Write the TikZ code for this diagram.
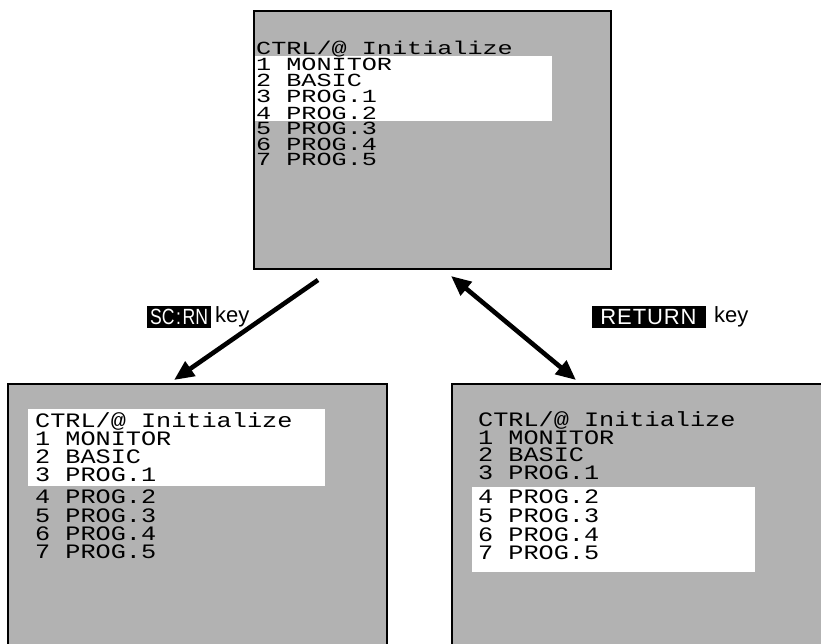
\documentclass[tikz,border=0pt]{standalone}
\usepackage{fontspec}
\setmainfont{Liberation Sans}
\newfontfamily\scrfont[FakeStretch=1.23]{Liberation Mono}
\newfontfamily\scrfonttop[FakeStretch=1.36]{Liberation Mono}
\usetikzlibrary{arrows.meta}
\definecolor{scrgray}{gray}{0.7}
\begin{document}
\begin{tikzpicture}[x=1pt,y=-1pt,
  screen/.style={fill=scrgray, draw=black, line width=1.5pt, inner sep=0pt, anchor=north west},
  hilite/.style={fill=white, draw=none},
  scrline/.style={anchor=west, inner sep=0pt, text height=13pt, text depth=0pt, font=\scrfont\fontsize{20.5}{20.5}\selectfont},
  scrlinetop/.style={anchor=west, inner sep=0pt, text height=12pt, text depth=0pt, font=\scrfonttop\fontsize{18.5}{18.5}\selectfont},
  keycap/.style={fill=black, text=white, font=\fontsize{22}{22}\selectfont, inner xsep=3pt, inner ysep=0pt, minimum height=22pt},
  keyword/.style={font=\fontsize{22}{22}\selectfont, inner sep=0pt},
  bigarrow/.style={line width=4.6pt, -{Triangle[length=20pt,width=17pt]}},
  bigarrows/.style={line width=4.6pt, {Triangle[length=20pt,width=17pt]}-{Triangle[length=20pt,width=17pt]}}]
\useasboundingbox (0,0) rectangle (821,643);
\clip (0,0) rectangle (821,643);

% screens
\node[screen, minimum width=357pt, minimum height=258pt] (top) at (253,10) {};
\node[screen, minimum width=379pt, minimum height=300pt] (left) at (7,383) {};
\node[screen, minimum width=380pt, minimum height=300pt] (right) at (451,383) {};

% highlights
\fill[hilite] (255,56) rectangle (552,121);
\fill[hilite] (28,409) rectangle (325,486);
\fill[hilite] (472,487) rectangle (755,572);

% top screen text (vertical text centres)
\node[scrlinetop] (t0) at (256,48) {CTRL/@ Initialize};
\node[scrlinetop] (t1) at (256,64) {1 MONITOR};
\node[scrlinetop] (t2) at (256,80) {2 BASIC};
\node[scrlinetop] (t3) at (256,96) {3 PROG.1};
\node[scrlinetop] (t4) at (256,113) {4 PROG.2};
\node[scrlinetop] (t5) at (256,128) {5 PROG.3};
\node[scrlinetop] (t6) at (256,144) {6 PROG.4};
\node[scrlinetop] (t7) at (256,159) {7 PROG.5};

% left screen text
\node[scrline] (l0) at (35,421) {CTRL/@ Initialize};
\node[scrline] (l1) at (35,439) {1 MONITOR};
\node[scrline] (l2) at (35,457) {2 BASIC};
\node[scrline] (l3) at (35,475) {3 PROG.1};
\node[scrline] (l4) at (35,497) {4 PROG.2};
\node[scrline] (l5) at (35,516) {5 PROG.3};
\node[scrline] (l6) at (35,534) {6 PROG.4};
\node[scrline] (l7) at (35,552) {7 PROG.5};

% right screen text
\node[scrline] (r0) at (478,420) {CTRL/@ Initialize};
\node[scrline] (r1) at (478,438) {1 MONITOR};
\node[scrline] (r2) at (478,455) {2 BASIC};
\node[scrline] (r3) at (478,473) {3 PROG.1};
\node[scrline] (r4) at (478,497) {4 PROG.2};
\node[scrline] (r5) at (478,516) {5 PROG.3};
\node[scrline] (r6) at (478,535) {6 PROG.4};
\node[scrline] (r7) at (478,553) {7 PROG.5};

% arrows
\coordinate (a1s) at (318,280);
\coordinate (a1e) at (174,380);
\coordinate (a2s) at (451,276);
\coordinate (a2e) at (576,380);
\draw[bigarrow] (a1s) -- (a1e);
\draw[bigarrows] (a2s) -- (a2e);

% key labels
\node[keycap, minimum width=62pt] (sckey) at (179,317) {\scalebox{0.8}[1]{SC\kern2pt:\kern2pt RN}};
\node[keyword, anchor=west] (sctxt) at (215,317) {key};
\node[keycap, minimum width=114pt] (retkey) at (648.5,317) {\addfontfeature{LetterSpace=4}RETURN};
\node[keyword, anchor=west] (rettxt) at (714,317) {key};
\end{tikzpicture}
\end{document}
